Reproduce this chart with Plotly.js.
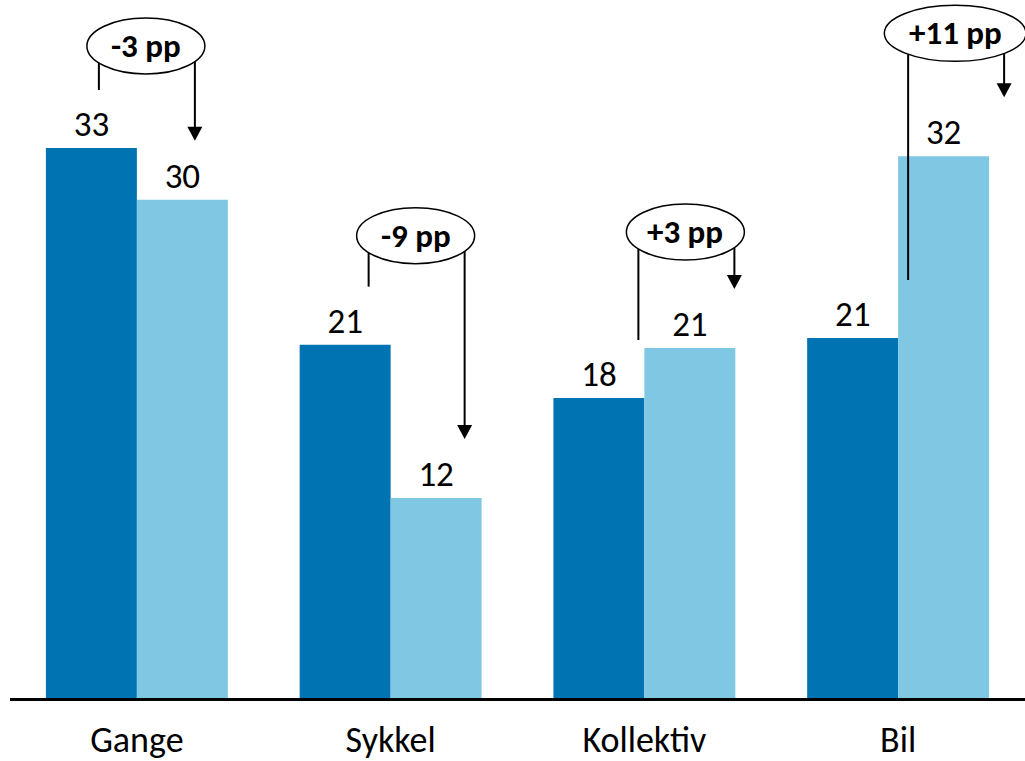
<!DOCTYPE html>
<html>
<head>
<meta charset="utf-8">
<script src="https://cdn.plot.ly/plotly-3.0.1.min.js"></script>
<style>html,body{margin:0;padding:0;background:#fff;}#chart{width:1025px;height:761px;}</style>
</head>
<body>
<div id="chart"></div>
<script>
// ---- data ----
const categories = ['Gange', 'Sykkel', 'Kollektiv', 'Bil'];
const valuesBefore = [33.0, 21.2, 18.0, 21.6];
const valuesAfter = [29.9, 12.0, 21.0, 32.5];
const labelsBefore = ['33', '21', '18', '21'];
const labelsAfter = ['30', '12', '21', '32'];
const changeLabels = ['-3 pp', '-9 pp', '+3 pp', '+11 pp'];

// ---- layout constants ----
const W = 1025, H = 761, mL = 10, mR = 0, mT = 0, mB = 63;
const yMax = 41.88;
const pxPerX = (W - mL - mR) / categories.length;
const pxPerY = (H - mT - mB) / yMax;
const X = p => p / pxPerX;
const Y = p => p / pxPerY;
const FONT = 'Carlito, Calibri, Lato, sans-serif';
const DARK = '#0073b3', LIGHT = '#7fc7e3';

const shapes = [];
const annotations = [];

categories.forEach((c, i) => {
  const hi = Math.max(valuesBefore[i], valuesAfter[i]);
  const cx = i + X(9 + 16 * i);
  const cy = hi + Y(102 + 7 * i);
  const rxPx = 11.8 * changeLabels[i].length;
  const ryPx = 28;
  const rx = X(rxPx), ry = Y(ryPx);
  const edge = offPx => cy - ry * Math.sqrt(Math.max(0, 1 - (offPx / rxPx) ** 2));

  // ellipse
  shapes.push({type: 'circle', xref: 'x', yref: 'y', x0: cx - rx, x1: cx + rx, y0: cy - ry, y1: cy + ry,
    line: {color: '#000', width: 1.5}, fillcolor: 'rgba(255,255,255,0)', layer: 'above'});
  // left leg
  const lx = cx - X(47);
  shapes.push({type: 'line', xref: 'x', yref: 'y', x0: lx, x1: lx, y0: valuesBefore[i] + Y(58), y1: edge(47),
    line: {color: '#000', width: 2}});
  // right leg with arrow
  const rxl = cx + X(49);
  const tipY = valuesAfter[i] + Y(59);
  shapes.push({type: 'line', xref: 'x', yref: 'y', x0: rxl, x1: rxl, y0: tipY + Y(12), y1: edge(49),
    line: {color: '#000', width: 2}});
  shapes.push({type: 'path', xref: 'x', yref: 'y', xsizemode: 'pixel', ysizemode: 'pixel',
    xanchor: rxl, yanchor: tipY, path: 'M-7.5,14 L7.5,14 L0,0 Z',
    fillcolor: '#000', line: {color: '#000', width: 0}});
  // change label
  annotations.push({xref: 'x', yref: 'y', x: cx, y: cy, text: '<b>' + changeLabels[i] + '</b>',
    showarrow: false, font: {family: FONT, size: 33, color: '#000'}, xanchor: 'center', yanchor: 'middle'});
});

const traceBefore = {
  type: 'bar', x: categories, y: valuesBefore, marker: {color: DARK},
  text: labelsBefore, textposition: 'outside', cliponaxis: false,
  textfont: {family: FONT, size: 35, color: '#000'}, hoverinfo: 'skip', name: 'før'
};
const traceAfter = {
  type: 'bar', x: categories, y: valuesAfter, marker: {color: LIGHT},
  text: labelsAfter, textposition: 'outside', cliponaxis: false,
  textfont: {family: FONT, size: 35, color: '#000'}, hoverinfo: 'skip', name: 'etter'
};

const layout = {
  width: W, height: H,
  margin: {l: mL, r: mR, t: mT, b: mB},
  paper_bgcolor: '#fff', plot_bgcolor: '#fff',
  barmode: 'group', bargap: 0.283, bargroupgap: 0,
  showlegend: false,
  font: {family: FONT, color: '#000'},
  xaxis: {type: 'category', range: [-0.5, 3.5], showline: true, linecolor: '#000', linewidth: 2.5,
    ticks: '', showgrid: false, zeroline: false, tickfont: {family: FONT, size: 36, color: '#000'},
    ticklabelstandoff: 8, fixedrange: true},
  yaxis: {range: [0, yMax], visible: false, showgrid: false, zeroline: false, fixedrange: true},
  shapes: shapes,
  annotations: annotations
};

Plotly.newPlot('chart', [traceBefore, traceAfter], layout, {displayModeBar: false, staticPlot: true});
</script>
</body>
</html>
